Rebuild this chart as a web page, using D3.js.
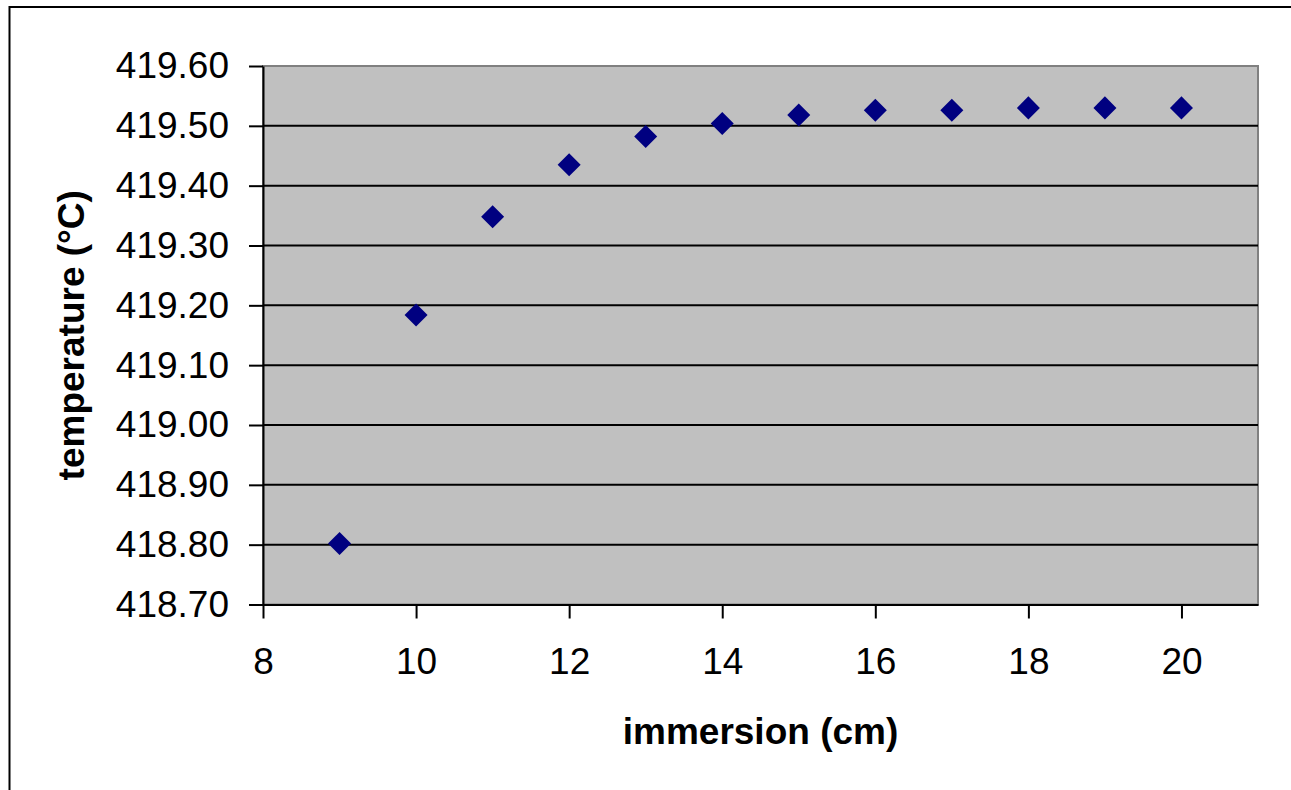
<!DOCTYPE html>
<html>
<head>
<meta charset="utf-8">
<script src="https://cdn.jsdelivr.net/npm/d3@7"></script>
<style>
    body { margin: 0; background: #ffffff; }
    svg { display: block; }
</style>
</head>
<body>
<div id="chart"></div>
<script>
// immersion depth (cm) and measured temperature (°C)
const immersion = [9, 10, 11, 12, 13, 14, 15, 16, 17, 18, 19, 20];
const temperature = [418.802, 419.184, 419.348, 419.435, 419.482, 419.504, 419.518, 419.526, 419.526, 419.530, 419.530, 419.530];

const xTicks = [8, 10, 12, 14, 16, 18, 20];
const yTicks = [418.70, 418.80, 418.90, 419.00, 419.10, 419.20, 419.30, 419.40, 419.50, 419.60];

const xTitle = "immersion (cm)";
const yTitle = "temperature (°C)";

function drawChart() {
    const div_id = "#chart";
    const win_width = 1291;
    const win_height = 790;
    const font = "'Liberation Sans', Arial, sans-serif";

    let margin = {top: 66, right: 33, bottom: 185.5, left: 263};
    let width = win_width - margin.left - margin.right;
    let height = win_height - margin.top - margin.bottom;

    let svg = d3.select(div_id)
        .append("svg")
        .attr("width", win_width)
        .attr("height", win_height);

    // chart frame (runs off the right and bottom of the picture)
    svg.append("rect")
        .attr("x", 9.5)
        .attr("y", 7)
        .attr("width", win_width + 20)
        .attr("height", win_height + 20)
        .attr("fill", "none")
        .attr("stroke", "#000")
        .attr("stroke-width", 2);

    let g = svg.append("g")
        .attr("transform", "translate(" + margin.left + "," + margin.top + ")");

    let x = d3.scaleLinear().domain([8, 21]).range([0, width]);
    let y = d3.scaleLinear().domain([418.70, 419.60]).range([height, 0]);

    // plot area
    g.append("rect")
        .attr("width", width)
        .attr("height", height)
        .attr("fill", "#c0c0c0")
        .attr("stroke", "#808080")
        .attr("stroke-width", 2);

    // gridlines
    g.append("g")
        .selectAll("line")
        .data(yTicks.slice(1, -1))
        .enter()
        .append("line")
        .attr("x1", 0)
        .attr("x2", width)
        .attr("y1", d => y(d))
        .attr("y2", d => y(d))
        .attr("stroke", "#000")
        .attr("stroke-width", 2);

    // axes
    let xAxis = g.append("g")
        .attr("transform", "translate(0," + height + ")")
        .call(d3.axisBottom(x).tickValues(xTicks).tickSize(14).tickSizeOuter(0).tickPadding(29));

    let yAxis = g.append("g")
        .call(d3.axisLeft(y).tickValues(yTicks).tickSize(14).tickSizeOuter(0).tickPadding(20)
            .tickFormat(d3.format(".2f")));

    [xAxis, yAxis].forEach(function (a) {
        a.select(".domain").attr("stroke", "#000").attr("stroke-width", 2);
        a.selectAll(".tick line").attr("stroke", "#000").attr("stroke-width", 2);
        a.selectAll(".tick text")
            .attr("fill", "#000")
            .style("font-family", font)
            .style("font-size", "37px");
    });

    // points
    let diamond = d3.symbol().type(d3.symbolSquare).size(265);
    g.append("g")
        .selectAll("path")
        .data(immersion)
        .enter()
        .append("path")
        .attr("d", diamond)
        .attr("transform", (d, i) => "translate(" + x(d) + "," + y(temperature[i]) + ") rotate(45)")
        .attr("fill", "#000080");

    // axis titles
    svg.append("text")
        .attr("x", margin.left + width / 2)
        .attr("y", 744)
        .attr("text-anchor", "middle")
        .style("font-family", font)
        .style("font-size", "37px")
        .style("font-weight", "bold")
        .text(xTitle);

    svg.append("text")
        .attr("transform", "translate(84," + (margin.top + height / 2) + ") rotate(-90)")
        .attr("text-anchor", "middle")
        .style("font-family", font)
        .style("font-size", "37px")
        .style("font-weight", "bold")
        .text(yTitle);
}
drawChart();
</script>
</body>
</html>
